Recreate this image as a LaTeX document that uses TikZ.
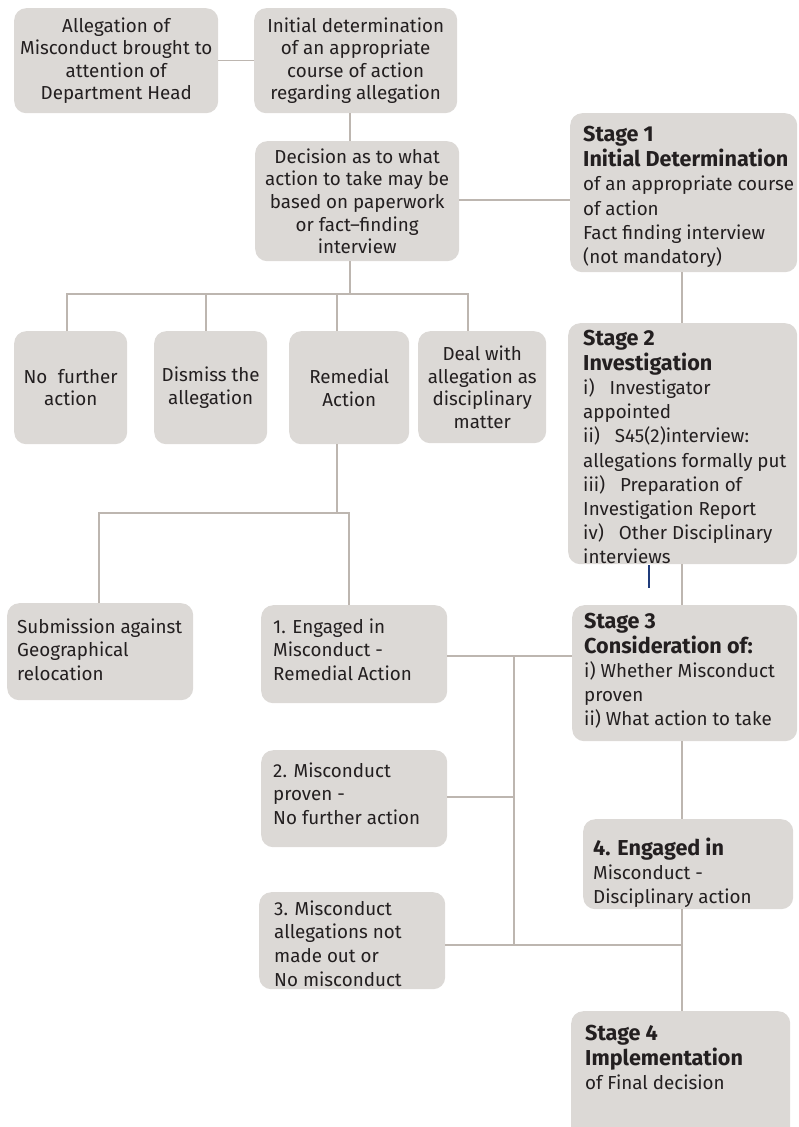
\documentclass[tikz,border=0pt]{standalone}
\usepackage{fontspec}
\setmainfont{Fira Sans}
\definecolor{boxgray}{HTML}{DCD9D6}
\definecolor{linegray}{HTML}{BDB6B0}
\definecolor{txtcol}{HTML}{231F20}
\definecolor{bluemark}{HTML}{1F3B7A}
\newcommand\cfnt{\fontsize{18.8}{22.6}\selectfont}
\newcommand\rfnt{\fontsize{18.8}{23.6}\selectfont}
\newcommand\sfnt{\fontsize{18.8}{24.2}\selectfont}
\newcommand\bfnt{\fontsize{21.6}{24.2}\selectfont\bfseries}
\tikzset{
  box/.style={fill=boxgray, rounded corners=12pt, inner sep=0pt, anchor=north west,
              align=center, text=txtcol, font=\cfnt},
  ltxt/.style={align=left, anchor=north west, inner sep=0pt, text=txtcol, font=\rfnt},
  stxt/.style={align=left, anchor=north west, inner sep=0pt, text=txtcol, font=\sfnt},
  conn/.style={draw=linegray, line width=1.5pt},
  mark line/.style={draw=bluemark, line width=1.2pt},
}
\begin{document}
\begin{tikzpicture}[x=1pt,y=-1pt]
\useasboundingbox (0,0) rectangle (798,1127);
\clip (0,0) rectangle (798,1127);

% boxes
\node[box, minimum width=204pt, minimum height=105pt] (alleg) at (14,8)
  {Allegation of\\Misconduct brought to\\attention of\\Department Head};
\node[box, minimum width=203pt, minimum height=105pt] (init) at (254,8)
  {Initial determination\\of an appropriate\\course of action\\regarding allegation};
\node[box, minimum width=204pt, minimum height=120pt] (dec) at (255,141)
  {Decision as to what\\action to take may be\\based on paperwork\\or fact–finding\\interview};
\node[box, minimum width=227pt, minimum height=159pt] (s1) at (570,113) {};
\node[box, minimum width=229pt, minimum height=241pt] (s2) at (568,323) {};
\node[box, minimum width=113pt, minimum height=113pt] (nfa) at (14,331)
  {No\hspace{5.5pt} further\\action};
\node[box, minimum width=113pt, minimum height=113pt] (dis) at (154,331)
  {Dismiss the\\allegation};
\node[box, minimum width=120pt, minimum height=113pt] (rem) at (289,331)
  {Remedial\\Action};
\node[box, minimum width=128pt, minimum height=112pt] (deal) at (418,331)
  {Deal with\\allegation as\\disciplinary\\matter};
\node[box, minimum width=186pt, minimum height=97pt] (sub) at (7,603) {};
\node[box, minimum width=186pt, minimum height=98pt] (b1) at (261,605) {};
\node[box, minimum width=186pt, minimum height=97pt] (b2) at (261,750) {};
\node[box, minimum width=186pt, minimum height=97pt] (b3) at (259,892) {};
\node[box, minimum width=225pt, minimum height=136pt] (s3) at (572,605) {};
\node[box, minimum width=210pt, minimum height=90pt] (b4) at (583,819) {};
\node[box, minimum width=219pt, minimum height=135pt] (s4) at (571,1011) {};

% texts of left-aligned boxes
\node[stxt] (ts1) at (583,126)
  {{\bfnt Stage 1}\\[1pt]{\bfnt Initial Determination}\\of an appropriate course\\of action\\Fact finding interview\\(not mandatory)};
\node[stxt] (ts2) at (583,329.5)
  {{\bfnt Stage 2}\\[1pt]{\bfnt Investigation}\\i)\hspace{10pt} Investigator\\appointed\\ii)\hspace{10pt} S45(2)interview:\\allegations formally put\\iii)\hspace{10pt} Preparation of\\Investigation Report\\iv)\hspace{10pt} Other Disciplinary\\interviews};
\node[ltxt] (tsub) at (17,618.5)
  {Submission against\\Geographical\\relocation};
\node[ltxt] (tb1) at (273,618.5)
  {1. Engaged in\\Misconduct -\\Remedial Action};
\node[ltxt] (tb2) at (273,762.5)
  {2. Misconduct\\proven -\\No further action};
\node[ltxt] (tb3) at (274,900.5)
  {3. Misconduct\\allegations not\\made out or\\No misconduct};
\node[stxt] (ts3) at (584,612.5)
  {{\bfnt Stage 3}\\[1pt]{\bfnt Consideration of:}\\i) Whether Misconduct\\proven\\ii) What action to take};
\node[stxt] (tb4) at (593,837.5)
  {{\bfnt 4. Engaged in}\\Misconduct -\\Disciplinary action};
\node[stxt] (ts4) at (585,1024.5)
  {{\bfnt Stage 4}\\[1pt]{\bfnt Implementation}\\of Final decision};

% helper coordinates
\coordinate (vx) at (350,0);
\coordinate (hy) at (0,200);
\coordinate (bus1) at (67,294);
\coordinate (bus2) at (206,294);
\coordinate (bus3) at (337,294);
\coordinate (bus4) at (468,294);
\coordinate (r1) at (99,513);
\coordinate (r2) at (349,513);
\coordinate (rx) at (682,0);
\coordinate (h1) at (0,656);
\coordinate (m1) at (514,656);
\coordinate (m2) at (514,945);
\coordinate (h2) at (514,797);
\coordinate (h3) at (0,945);
\coordinate (bl1) at (649,565);
\coordinate (bl2) at (649,588);

% connectors
\draw[conn] (alleg.east) -- (init.west);
\draw[conn] (init.south -| vx) -- (dec.north -| vx);
\draw[conn] (dec.east |- hy) -- (s1.west |- hy);
\draw[conn] (dec.south -| vx) -- (vx |- bus1);
\draw[conn] (bus1 |- nfa.north) -- (bus1) -- (bus4) -- (bus4 |- deal.north);
\draw[conn] (bus2) -- (bus2 |- dis.north);
\draw[conn] (bus3) -- (bus3 |- rem.north);
\draw[conn] (rem.south -| bus3) -- (bus3 |- r1);
\draw[conn] (r1 |- sub.north) -- (r1) -- (r2) -- (r2 |- b1.north);
\draw[conn] (s1.south -| rx) -- (s2.north -| rx);
\draw[conn] (s2.south -| rx) -- (s3.north -| rx);
\draw[conn] (s3.south -| rx) -- (b4.north -| rx);
\draw[conn] (b4.south -| rx) -- (s4.north -| rx);
\draw[conn] (b1.east |- h1) -- (s3.west |- h1);
\draw[conn] (m1) -- (m2);
\draw[conn] (b2.east |- h2) -- (h2);
\draw[conn] (b3.east |- h3) -- (rx |- h3);
\draw[mark line] (bl1) -- (bl2);
\end{tikzpicture}
\end{document}
